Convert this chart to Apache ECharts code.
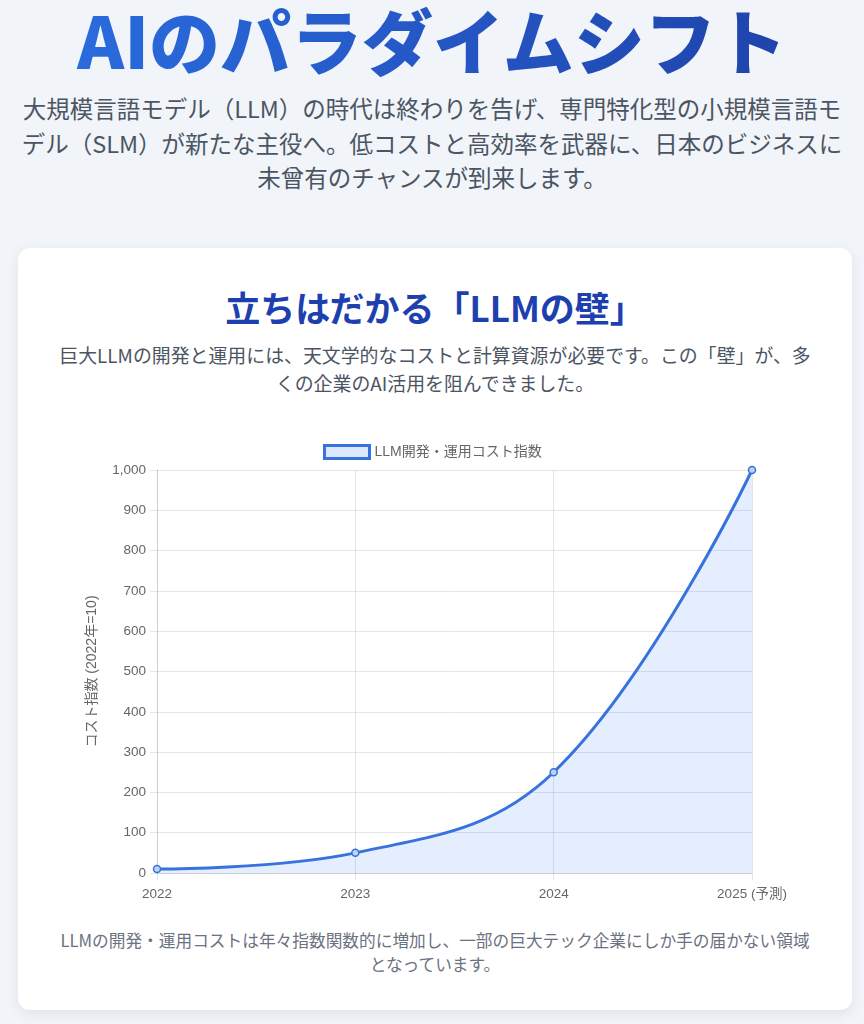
<!DOCTYPE html>
<html lang="ja">
<head>
<meta charset="utf-8">
<title>AIのパラダイムシフト</title>
<script src="https://cdn.jsdelivr.net/npm/echarts@6/dist/echarts.min.js"></script>
<style>
  html, body { margin: 0; padding: 0; }
  body {
    width: 864px; height: 1024px; overflow: hidden; position: relative;
    background: #f1f4f9;
    font-family: "Noto Sans CJK JP", "Noto Sans", sans-serif;
  }
  .hero-title {
    position: absolute; left: 0; top: -5px; width: 864px; margin: 0;
    text-align: center; font-size: 71px; line-height: 86px; font-weight: 900;
    background: linear-gradient(90deg, #2b6fe3, #1e3fa6);
    -webkit-background-clip: text; background-clip: text; color: transparent;
    white-space: nowrap;
  }
  .hero-sub {
    position: absolute; left: 0; top: 91px; width: 864px; margin: 0;
    text-align: center; font-size: 23.5px; line-height: 34.5px; color: #4b5563;
    white-space: nowrap;
  }
  .card {
    position: absolute; left: 18px; top: 248px; width: 834px; height: 762px;
    background: #fff; border-radius: 12px;
    box-shadow: 0 4px 14px rgba(15, 23, 42, 0.08);
  }
  .card h2 {
    position: absolute; left: 0; top: 36px; width: 834px; margin: 0;
    text-align: center; font-size: 35px; line-height: 46px; font-weight: 700;
    color: #1e40af; white-space: nowrap;
  }
  .card .desc {
    position: absolute; left: 0; top: 93px; width: 834px; margin: 0;
    text-align: center; font-size: 18.9px; line-height: 28px; color: #4b5563;
    white-space: nowrap;
  }
  #main { position: absolute; left: 52px; top: 184px; width: 740px; height: 475px; }
  .card .note {
    position: absolute; left: 0; top: 680px; width: 834px; margin: 0;
    text-align: center; font-size: 16.7px; line-height: 24px; color: #6b7280;
    white-space: nowrap;
  }
</style>
</head>
<body>
<h1 class="hero-title">AIのパラダイムシフト</h1>
<p class="hero-sub">大規模言語モデル（LLM）の時代は終わりを告げ、専門特化型の小規模言語モ<br>デル（SLM）が新たな主役へ。低コストと高効率を武器に、日本のビジネスに<br>未曾有のチャンスが到来します。</p>
<div class="card">
  <h2>立ちはだかる「LLMの壁」</h2>
  <p class="desc">巨大LLMの開発と運用には、天文学的なコストと計算資源が必要です。この「壁」が、多<br>くの企業のAI活用を阻んできました。</p>
  <div id="main"></div>
  <p class="note">LLMの開発・運用コストは年々指数関数的に増加し、一部の巨大テック企業にしか手の届かない領域<br>となっています。</p>
</div>
<script>
// データ
var years = ['2022', '2023', '2024', '2025 (予測)'];
var costIndex = [10, 50, 250, 1000];
var seriesName = 'LLM開発・運用コスト指数';
var yAxisName = 'コスト指数 (2022年=10)';

var chartFont = '"Liberation Sans", "Noto Sans CJK JP", sans-serif';
var gridColor = 'rgba(0,0,0,0.1)';
var lineColor = '#3872dc';
var labelColor = '#666';

var myChart = echarts.init(document.getElementById('main'));
myChart.setOption({
  animation: false,
  textStyle: { fontFamily: chartFont },
  legend: {
    top: 7,
    left: 248,
    itemWidth: 45,
    itemHeight: 13,
    itemGap: 10,
    textStyle: { color: labelColor, fontSize: 14, fontFamily: chartFont },
    data: [{
      name: seriesName,
      icon: 'rect',
      itemStyle: { color: '#dce8fb', borderColor: lineColor, borderWidth: 3 }
    }]
  },
  grid: { left: 87, right: 58, top: 38, bottom: 34 },
  xAxis: {
    type: 'category',
    boundaryGap: false,
    data: years,
    axisLine: { lineStyle: { color: gridColor } },
    axisTick: { show: true, length: 7, lineStyle: { color: gridColor } },
    splitLine: { show: true, lineStyle: { color: gridColor } },
    axisLabel: { color: labelColor, fontSize: 13.5, margin: 15, fontFamily: chartFont }
  },
  yAxis: {
    type: 'value',
    min: 0,
    max: 1000,
    interval: 100,
    name: yAxisName,
    nameLocation: 'middle',
    nameGap: 58,
    nameTextStyle: { color: labelColor, fontSize: 14, fontFamily: chartFont },
    axisLine: { show: true, lineStyle: { color: gridColor } },
    axisTick: { show: true, length: 7, lineStyle: { color: gridColor } },
    splitLine: { show: true, lineStyle: { color: gridColor } },
    axisLabel: {
      color: labelColor, fontSize: 13.5, margin: 11, fontFamily: chartFont,
      formatter: function (v) { return v.toLocaleString('en-US'); }
    }
  },
  series: [{
    name: seriesName,
    type: 'line',
    data: costIndex,
    smooth: 0.4,
    clip: false,
    symbol: 'circle',
    symbolSize: 7,
    showSymbol: true,
    lineStyle: { color: lineColor, width: 3 },
    itemStyle: { color: '#bcd3f6', borderColor: lineColor, borderWidth: 1.5 },
    areaStyle: { color: 'rgba(59,130,246,0.19)' }
  }]
});
</script>
</body>
</html>
